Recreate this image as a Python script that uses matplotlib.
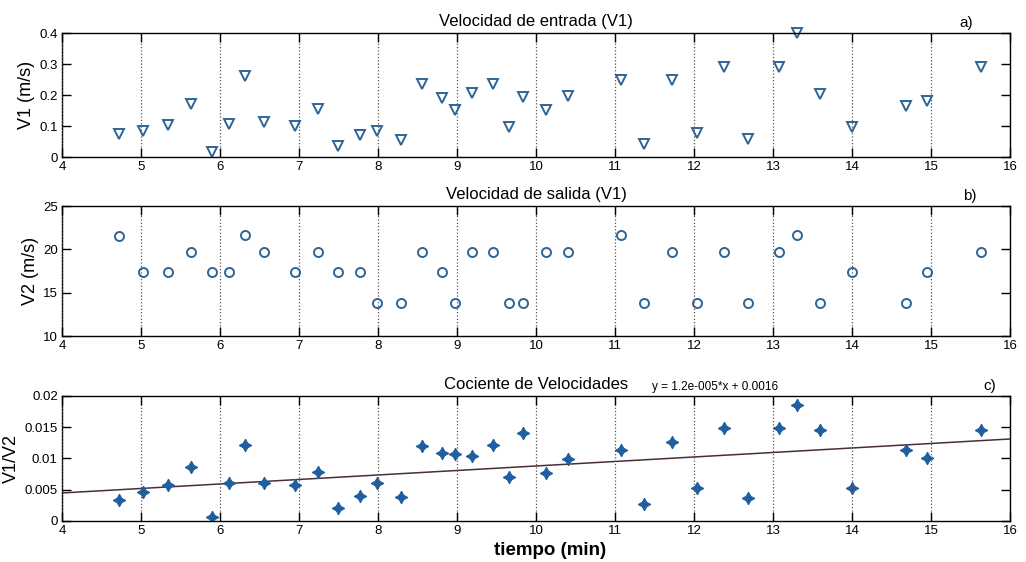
#!/usr/bin/env python3
"""Velocidad de entrada, salida y cociente frente al tiempo (tres paneles)."""

import matplotlib
matplotlib.use('Agg')
import matplotlib.pyplot as plt
import numpy as np


### Datos

# Tiempo de cada medida (min), igual en los tres paneles.
TIEMPO = [4.72, 5.03, 5.34, 5.63, 5.90, 6.11, 6.32, 6.56, 6.95, 7.24, 7.50, 7.77,
          7.99, 8.29, 8.56, 8.81, 8.97, 9.19, 9.45, 9.66, 9.84, 10.13, 10.41, 11.08,
          11.37, 11.72, 12.04, 12.38, 12.68, 13.07, 13.31, 13.60, 14.00, 14.68, 14.95, 15.63]

# Velocidad de entrada V1 (m/s).
V1 = [0.075, 0.085, 0.102, 0.170, 0.015, 0.106, 0.262, 0.114, 0.100, 0.155, 0.037, 0.072,
      0.085, 0.054, 0.235, 0.190, 0.153, 0.205, 0.235, 0.098, 0.193, 0.153, 0.197, 0.247,
      0.042, 0.247, 0.078, 0.292, 0.057, 0.292, 0.400, 0.203, 0.098, 0.165, 0.180, 0.292]

# Velocidad de salida V2 (m/s).
V2 = [21.5, 17.4, 17.4, 19.7, 17.4, 17.4, 21.6, 19.7, 17.4, 19.7, 17.4, 17.4,
      13.8, 13.8, 19.7, 17.4, 13.8, 19.7, 19.7, 13.8, 13.8, 19.7, 19.7, 21.6,
      13.8, 19.7, 13.8, 19.7, 13.8, 19.7, 21.6, 13.8, 17.4, 13.8, 17.4, 19.7]

# Cociente V1/V2.
COCIENTE = [0.0034, 0.0047, 0.0058, 0.0086, 0.0006, 0.0061, 0.0121, 0.0060, 0.0057, 0.0078,
            0.0020, 0.0040, 0.0061, 0.0039, 0.0120, 0.0108, 0.0107, 0.0104, 0.0121, 0.0070,
            0.0141, 0.0076, 0.0099, 0.0114, 0.0027, 0.0126, 0.0052, 0.0148, 0.0036, 0.0148,
            0.0185, 0.0145, 0.0052, 0.0114, 0.0100, 0.0146]

# Recta de ajuste mostrada en el panel c (x en segundos).
AJUSTE_PENDIENTE = 1.2e-005
AJUSTE_ORDENADA = 0.0016

X_TICKS = list(range(4, 17))
V1_TICKS = [0, 0.1, 0.2, 0.3, 0.4]
V2_TICKS = [10, 15, 20, 25]
COCIENTE_TICKS = [0, 0.005, 0.01, 0.015, 0.02]

### Estilo

FONT = ['Liberation Sans', 'DejaVu Sans']
MARKER_COLOR = '#2f6596'
FILL_COLOR = '#1f5fa0'
LINE_COLOR = '#4a2f36'


def style_axes(ax, yticks, ylabel):
    ax.set_xlim(4, 16)
    ax.set_ylim(yticks[0], yticks[-1])
    ax.set_xticks(X_TICKS)
    ax.set_yticks(yticks)
    ax.set_yticklabels([f'{t:g}' for t in yticks])
    ax.tick_params(direction='in', top=True, right=True, length=6.5, width=1.0,
                   labelsize=9.5, pad=3, colors='black')
    ax.xaxis.grid(True, linestyle=':', color='#555555', linewidth=0.9)
    ax.set_axisbelow(False)
    for spine in ax.spines.values():
        spine.set_linewidth(1.0)
    ax.set_ylabel(ylabel, fontsize=13, labelpad=3)


def main():
    plt.rcParams['font.family'] = FONT
    fig = plt.figure(figsize=(10.26, 5.62), dpi=100)

    left, width = 0.0604, 0.924
    ax_a = fig.add_axes([left, 0.7206, width, 0.2206])
    ax_b = fig.add_axes([left, 0.4021, width, 0.2313])
    ax_c = fig.add_axes([left, 0.0730, width, 0.2224])

    # a) velocidad de entrada
    ax_a.plot(TIEMPO, V1, linestyle='none', marker='v', markersize=7,
              markerfacecolor='none', markeredgecolor=MARKER_COLOR, markeredgewidth=1.4,
              clip_on=False)
    style_axes(ax_a, V1_TICKS, 'V1 (m/s)')
    ax_a.set_title('Velocidad de entrada (V1)', fontsize=12, pad=5)
    ax_a.text(0.947, 1.05, 'a)', transform=ax_a.transAxes, fontsize=11)

    # b) velocidad de salida
    ax_b.plot(TIEMPO, V2, linestyle='none', marker='o', markersize=6.5,
              markerfacecolor='none', markeredgecolor=MARKER_COLOR, markeredgewidth=1.4)
    style_axes(ax_b, V2_TICKS, 'V2 (m/s)')
    ax_b.set_title('Velocidad de salida (V1)', fontsize=12, pad=5)
    ax_b.text(0.951, 1.05, 'b)', transform=ax_b.transAxes, fontsize=11)

    # c) cociente con recta de ajuste
    t_fit = np.array([X_TICKS[0], X_TICKS[-1]], dtype=float)
    ax_c.plot(t_fit, AJUSTE_PENDIENTE * t_fit * 60 + AJUSTE_ORDENADA,
              color=LINE_COLOR, linewidth=1.1)
    ax_c.plot(TIEMPO, COCIENTE, linestyle='none', marker=(4, 1, 0), markersize=9,
              markerfacecolor=FILL_COLOR, markeredgecolor=FILL_COLOR, markeredgewidth=0.8)
    style_axes(ax_c, COCIENTE_TICKS, 'V1/V2')
    ax_c.set_title('Cociente de Velocidades', fontsize=12, pad=5)
    ax_c.text(0.622, 1.05, 'y = 1.2e-005*x + 0.0016', transform=ax_c.transAxes, fontsize=8.5)
    ax_c.text(0.972, 1.05, 'c)', transform=ax_c.transAxes, fontsize=11)
    ax_c.set_xlabel('tiempo (min)', fontsize=13.5, fontweight='bold', labelpad=2)
    ax_c.xaxis.set_label_coords(0.515, -0.17)

    fig.savefig('out.png', dpi=100)


if __name__ == '__main__':
    main()
